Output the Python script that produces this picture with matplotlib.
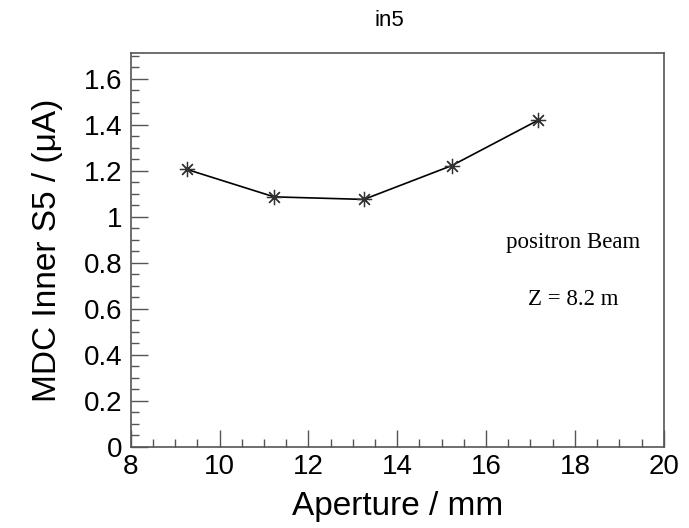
import matplotlib.pyplot as plt
from matplotlib.ticker import MultipleLocator

# aperture scan, MDC inner S5 current
aperture = [9.27, 11.23, 13.25, 15.23, 17.17]
current = [1.205, 1.086, 1.075, 1.222, 1.419]

plt.rcParams['font.family'] = ['Liberation Sans', 'DejaVu Sans']

fig = plt.figure(figsize=(6.89, 5.28), dpi=100)
ax = fig.add_axes([0.1897, 0.154, 0.7736, 0.745])

ax.plot(aperture, current, color='black', lw=1.2,
        marker=(8, 2, 0), markersize=11, markeredgecolor='#333333',
        markeredgewidth=0.9)

ax.set_xlim(8, 20)
ax.set_ylim(0, 1.71)
ax.xaxis.set_major_locator(MultipleLocator(2))
ax.xaxis.set_minor_locator(MultipleLocator(0.5))
ax.yaxis.set_major_locator(MultipleLocator(0.2))
ax.yaxis.set_minor_locator(MultipleLocator(0.05))
ax.yaxis.set_major_formatter(lambda v, p: '0' if abs(v) < 1e-9 else ('1' if abs(v - 1) < 1e-9 else f'{v:.1f}'))

ax.tick_params(which='both', direction='in', top=False, right=False,
               color='#555555', labelsize=20)
ax.tick_params(which='major', length=12, width=1)
ax.tick_params(which='minor', length=6, width=1)
ax.tick_params(axis='x', pad=5)
ax.tick_params(axis='y', pad=6)
for s in ax.spines.values():
    s.set_color('#555555')
    s.set_linewidth(1.2)

ax.set_xlabel('Aperture / mm', fontsize=24)
ax.xaxis.set_label_coords(0.5, -0.112)
ax.set_ylabel('MDC Inner S5 / (μA)', fontsize=24)
ax.yaxis.set_label_coords(-0.127, 0.5)

ax.text(0.83, 0.518, 'positron Beam', transform=ax.transAxes,
        family='Liberation Serif', fontsize=16.5, ha='center', va='center')
ax.text(0.83, 0.373, 'Z = 8.2 m', transform=ax.transAxes,
        family='Liberation Serif', fontsize=16.5, ha='center', va='center')

fig.text(389 / 689, 1 - 20 / 528, 'in5', fontsize=16, ha='center', va='center')

fig.savefig('out.png', dpi=100)
